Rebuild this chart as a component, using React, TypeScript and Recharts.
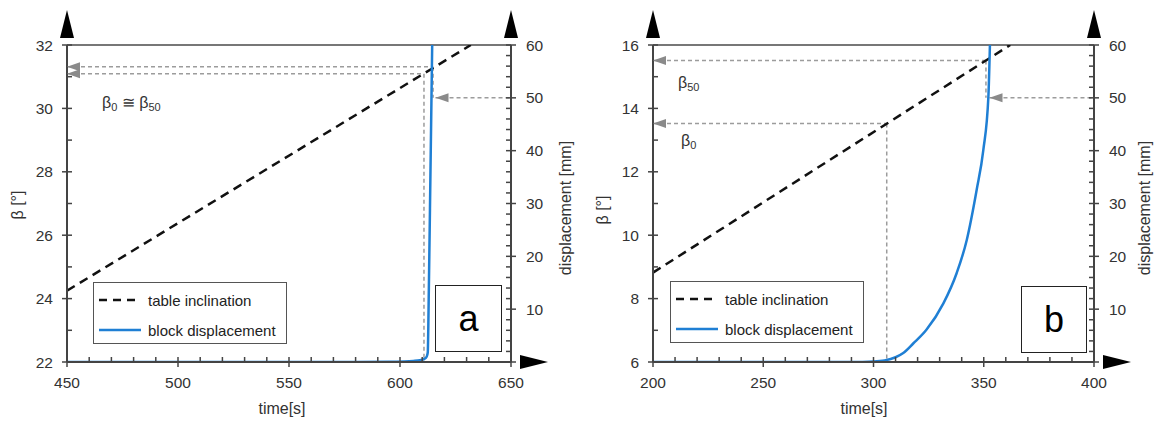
import React from 'react';
import { ComposedChart, Line, XAxis, YAxis, ReferenceLine, ReferenceDot } from 'recharts';

const FONT = '"Liberation Sans", Arial, sans-serif';
const BLUE = '#1f7fd4';
const GRAY = '#9c9c9c';
const AXIS = '#444';

// ---- panel a ----
const timeTicksA = [450, 460, 470, 480, 490, 500, 510, 520, 530, 540, 550, 560, 570, 580, 590, 600, 610, 620, 630, 640, 650];
const betaTicksA = [22, 23, 24, 25, 26, 27, 28, 29, 30, 31, 32];
const inclinationA = [
  { t: 450, b: 24.25 },
  { t: 631.9, b: 32 },
];
const displacementA = [
  { t: 450, d: 0 },
  { t: 500, d: 0 },
  { t: 550, d: 0 },
  { t: 580, d: 0 },
  { t: 595, d: 0.05 },
  { t: 602, d: 0.1 },
  { t: 606, d: 0.2 },
  { t: 609, d: 0.35 },
  { t: 611, d: 0.6 },
  { t: 612, d: 1.0 },
  { t: 612.5, d: 1.8 },
  { t: 613, d: 14 },
  { t: 613.5, d: 29 },
  { t: 614, d: 44.5 },
  { t: 614.5, d: 60 },
];
const beta0A = { t: 610.8, b: 31.09 };
const beta50A = { t: 614.9, b: 31.31 };
const arrow50A = 616;

// ---- panel b ----
const timeTicksB = [200, 210, 220, 230, 240, 250, 260, 270, 280, 290, 300, 310, 320, 330, 340, 350, 360, 370, 380, 390, 400];
const betaTicksB = [6, 7, 8, 9, 10, 11, 12, 13, 14, 15, 16];
const inclinationB = [
  { t: 200, b: 8.82 },
  { t: 362, b: 16 },
];
const displacementB = [
  { t: 200, d: 0 },
  { t: 250, d: 0 },
  { t: 290, d: 0 },
  { t: 300, d: 0.1 },
  { t: 305, d: 0.3 },
  { t: 310, d: 0.9 },
  { t: 313.5, d: 1.7 },
  { t: 318, d: 3.5 },
  { t: 324, d: 6.1 },
  { t: 331.7, d: 11.1 },
  { t: 337.7, d: 16.8 },
  { t: 342.3, d: 23.1 },
  { t: 346.8, d: 32.6 },
  { t: 349.8, d: 40.1 },
  { t: 352.1, d: 50.2 },
  { t: 352.8, d: 60 },
];
const beta0B = { t: 306, b: 13.52 };
const beta50B = { t: 351, b: 15.51 };
const arrow50B = 352.6;

// displacement axis, shared
const dispTicks = [0, 2, 4, 6, 8, 10, 12, 14, 16, 18, 20, 22, 24, 26, 28, 30, 32, 34, 36, 38, 40, 42, 44, 46, 48, 50, 52, 54, 56, 58, 60];

const tickText = { fontFamily: FONT, fontSize: 15.5, fill: '#333' };

const XTick = (props: any) => {
  const { x, y, payload } = props;
  const major = payload.value % 50 === 0;
  return (
    <g>
      <line x1={x} x2={x} y1={y - 5} y2={major ? y + 5 : y} stroke={AXIS} strokeWidth={1.5} />
      {major && (
        <text x={x} y={y + 26} textAnchor="middle" {...tickText}>
          {payload.value}
        </text>
      )}
    </g>
  );
};

const LeftTick = (props: any) => {
  const { x, y, payload } = props;
  const major = payload.value % 2 === 0;
  return (
    <g>
      <line x1={major ? x - 5 : x} x2={x + 5} y1={y} y2={y} stroke={AXIS} strokeWidth={1.5} />
      {major && (
        <text x={x - 14} y={y} dy="0.36em" textAnchor="end" {...tickText}>
          {payload.value}
        </text>
      )}
    </g>
  );
};

const RightTick = (props: any) => {
  const { x, y, payload } = props;
  const major = payload.value % 10 === 0;
  return (
    <g>
      <line x1={x - 5} x2={major ? x + 5 : x} y1={y} y2={y} stroke={AXIS} strokeWidth={1.5} />
      {major && payload.value !== 0 && (
        <text x={x + 15} y={y} dy="0.36em" textAnchor="start" {...tickText}>
          {payload.value}
        </text>
      )}
    </g>
  );
};

const ArrowUp = (p: any) => (
  <polygon points={`${p.cx - 7},${p.cy - 7} ${p.cx + 7},${p.cy - 7} ${p.cx},${p.cy - 35}`} fill="#000" />
);
const ArrowRight = (p: any) => (
  <polygon points={`${p.cx + 9},${p.cy - 7} ${p.cx + 9},${p.cy + 7} ${p.cx + 37},${p.cy}`} fill="#000" />
);
const ArrowLeftSmall = (p: any) => (
  <polygon points={`${p.cx},${p.cy} ${p.cx + 13},${p.cy - 4.5} ${p.cx + 13},${p.cy + 4.5}`} fill="#8a8a8a" />
);

const dash = { stroke: GRAY, strokeWidth: 1.5, strokeDasharray: '4 3' };

type PanelProps = {
  left: number;
  width: number;
  marginLeft: number;
  marginRight: number;
  timeTicks: number[];
  betaTicks: number[];
  inclination: { t: number; b: number }[];
  displacement: { t: number; d: number }[];
  beta0: { t: number; b: number };
  beta50: { t: number; b: number };
  arrow50: number;
};

const Panel = (p: PanelProps) => {
  const t0 = p.timeTicks[0];
  const t1 = p.timeTicks[p.timeTicks.length - 1];
  const b0 = p.betaTicks[0];
  const b1 = p.betaTicks[p.betaTicks.length - 1];
  const beta50mm = b0 + ((b1 - b0) * 50) / 60;
  return (
    <div style={{ position: 'absolute', left: p.left, top: 0 }}>
      <ComposedChart
        width={p.width}
        height={421}
        margin={{ top: 45, right: p.marginRight, bottom: 29, left: p.marginLeft }}
      >
        <XAxis
          dataKey="t"
          type="number"
          domain={[t0, t1]}
          ticks={p.timeTicks}
          interval={0}
          tick={XTick}
          tickLine={false}
          tickSize={0}
          tickMargin={0}
          axisLine={{ stroke: AXIS, strokeWidth: 2 }}
          height={30}
          allowDataOverflow
        />
        <YAxis
          yAxisId="beta"
          orientation="left"
          type="number"
          domain={[b0, b1]}
          ticks={p.betaTicks}
          interval={0}
          tick={LeftTick}
          tickLine={false}
          tickSize={0}
          tickMargin={0}
          axisLine={{ stroke: AXIS, strokeWidth: 2 }}
          width={50}
          allowDataOverflow
        />
        <YAxis
          yAxisId="disp"
          orientation="right"
          type="number"
          domain={[0, 60]}
          ticks={dispTicks}
          interval={0}
          tick={RightTick}
          tickLine={false}
          tickSize={0}
          tickMargin={0}
          axisLine={{ stroke: AXIS, strokeWidth: 2 }}
          width={50}
          allowDataOverflow
        />
        <ReferenceLine yAxisId="beta" y={b1} stroke="#777" strokeWidth={2} />
        <ReferenceLine yAxisId="beta" segment={[{ x: t0, y: p.beta50.b }, { x: p.beta50.t, y: p.beta50.b }]} {...dash} />
        <ReferenceLine yAxisId="beta" segment={[{ x: t0, y: p.beta0.b }, { x: p.beta0.t, y: p.beta0.b }]} {...dash} />
        <ReferenceLine yAxisId="beta" segment={[{ x: p.beta0.t, y: p.beta0.b }, { x: p.beta0.t, y: b0 }]} {...dash} />
        <ReferenceLine yAxisId="beta" segment={[{ x: p.beta50.t, y: p.beta50.b }, { x: p.beta50.t, y: beta50mm }]} {...dash} />
        <ReferenceLine yAxisId="disp" segment={[{ x: p.arrow50, y: 50 }, { x: t1, y: 50 }]} {...dash} />
        <Line
          yAxisId="beta"
          data={p.inclination}
          dataKey="b"
          type="linear"
          stroke="#111"
          strokeWidth={2.5}
          strokeDasharray="9 6"
          dot={false}
          activeDot={false}
          isAnimationActive={false}
        />
        <Line
          yAxisId="disp"
          data={p.displacement}
          dataKey="d"
          type="monotone"
          stroke={BLUE}
          strokeWidth={2.5}
          dot={false}
          activeDot={false}
          isAnimationActive={false}
        />
        <ReferenceDot yAxisId="beta" x={t0} y={p.beta50.b} r={0} ifOverflow="visible" shape={ArrowLeftSmall} />
        <ReferenceDot yAxisId="beta" x={t0} y={p.beta0.b} r={0} ifOverflow="visible" shape={ArrowLeftSmall} />
        <ReferenceDot yAxisId="disp" x={p.arrow50} y={50} r={0} ifOverflow="visible" shape={ArrowLeftSmall} />
        <ReferenceDot yAxisId="beta" x={t0} y={b1} r={0} ifOverflow="visible" shape={ArrowUp} />
        <ReferenceDot yAxisId="beta" x={t1} y={b1} r={0} ifOverflow="visible" shape={ArrowUp} />
        <ReferenceDot yAxisId="beta" x={t1} y={b0} r={0} ifOverflow="visible" shape={ArrowRight} />
      </ComposedChart>
    </div>
  );
};

const Title = ({ x, y, text, rotate }: { x: number; y: number; text: string; rotate?: boolean }) => (
  <div
    style={{
      position: 'absolute',
      left: x,
      top: y,
      transform: `translate(-50%, -50%)${rotate ? ' rotate(-90deg)' : ''}`,
      whiteSpace: 'nowrap',
      fontFamily: FONT,
      fontSize: 16,
      color: '#333',
      lineHeight: 1,
    }}
  >
    {text}
  </div>
);

const LegendBox = ({ x, y }: { x: number; y: number }) => (
  <div
    style={{
      position: 'absolute',
      left: x,
      top: y,
      width: 192,
      height: 60,
      border: '1.5px solid #555',
      background: '#fff',
      fontFamily: FONT,
      fontSize: 15,
      color: '#222',
    }}
  >
    {[
      { name: 'table inclination', color: '#111', dashed: true },
      { name: 'block displacement', color: BLUE, dashed: false },
    ].map((item, i) => (
      <div key={item.name} style={{ position: 'absolute', left: 4, top: 8 + i * 30, height: 18, display: 'flex', alignItems: 'center' }}>
        <svg width={44} height={10}>
          <line
            x1={1}
            x2={43}
            y1={5}
            y2={5}
            stroke={item.color}
            strokeWidth={2.5}
            strokeDasharray={item.dashed ? '8 6' : undefined}
          />
        </svg>
        <span style={{ marginLeft: 6, whiteSpace: 'nowrap' }}>{item.name}</span>
      </div>
    ))}
  </div>
);

const Tag = ({ x, y, w, h, label }: { x: number; y: number; w: number; h: number; label: string }) => (
  <div
    style={{
      position: 'absolute',
      left: x,
      top: y,
      width: w,
      height: h,
      border: '1px solid #222',
      background: '#fff',
      fontFamily: FONT,
      fontSize: 36,
      display: 'flex',
      alignItems: 'center',
      justifyContent: 'center',
      boxSizing: 'border-box',
    }}
  >
    {label}
  </div>
);

const Beta = ({ sub }: { sub: string }) => (
  <span>
    β<span style={{ fontSize: 11, verticalAlign: -3 }}>{sub}</span>
  </span>
);

const Note = ({ x, y, children }: { x: number; y: number; children: React.ReactNode }) => (
  <div
    style={{
      position: 'absolute',
      left: x,
      top: y,
      fontFamily: FONT,
      fontSize: 16,
      lineHeight: 1,
      color: '#333',
      whiteSpace: 'nowrap',
    }}
  >
    {children}
  </div>
);

export default function App() {
  return (
    <div style={{ position: 'absolute', left: 0, top: 0, width: 1158, height: 421, background: '#fff', overflow: 'hidden' }}>
      <Panel
        left={0}
        width={580}
        marginLeft={17}
        marginRight={19}
        timeTicks={timeTicksA}
        betaTicks={betaTicksA}
        inclination={inclinationA}
        displacement={displacementA}
        beta0={beta0A}
        beta50={beta50A}
        arrow50={arrow50A}
      />
      <Panel
        left={580}
        width={578}
        marginLeft={23}
        marginRight={14}
        timeTicks={timeTicksB}
        betaTicks={betaTicksB}
        inclination={inclinationB}
        displacement={displacementB}
        beta0={beta0B}
        beta50={beta50B}
        arrow50={arrow50B}
      />

      <Title x={18} y={205} text="β [°]" rotate />
      <Title x={566} y={208} text="displacement [mm]" rotate />
      <Title x={282} y={409} text="time[s]" />
      <Title x={603} y={210} text="β [°]" rotate />
      <Title x={1145} y={208} text="displacement [mm]" rotate />
      <Title x={864} y={409} text="time[s]" />

      <LegendBox x={93} y={282} />
      <LegendBox x={670} y={281} />

      <Tag x={435} y={285} w={67} h={67} label="a" />
      <Tag x={1021} y={286} w={66} h={67} label="b" />

      <Note x={102} y={95}>
        <Beta sub="0" /> ≅ <Beta sub="50" />
      </Note>
      <Note x={678} y={75}>
        <Beta sub="50" />
      </Note>
      <Note x={681} y={133}>
        <Beta sub="0" />
      </Note>
    </div>
  );
}
